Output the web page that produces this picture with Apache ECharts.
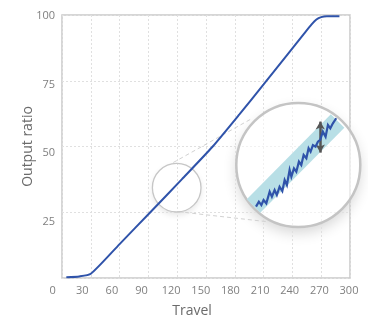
<!DOCTYPE html>
<html>
<head>
<meta charset="utf-8">
<script src="https://cdn.jsdelivr.net/npm/echarts@6/dist/echarts.min.js"></script>
<style>
html,body{margin:0;padding:0;background:#fff;}
#chart{width:368px;height:333px;}
</style>
</head>
<body>
<div id="chart"></div>
<script>
// Main curve: Travel vs Output ratio
const travel = [4.5, 18, 30, 60, 92, 125, 157, 185, 210, 235, 252, 260, 265, 270, 276, 289];
const outputRatio = [0.3, 0.6, 1.6, 12.9, 25, 37.6, 50, 62.3, 73.6, 85, 92.8, 96.4, 98.3, 99.2, 99.5, 99.5];

// Tick labels
const xTicks = [0, 30, 60, 90, 120, 150, 180, 210, 240, 270, 300];
const yTicks = [25, 50, 75, 100];

// Magnified inset (0..100 local units inside the lens)
const bandX = [13.9, 81.7];
const bandY = [16.9, 85.5];
const noiseX = [15.9, 18.2, 20.2, 22.0, 24.2, 26.9, 28.7, 30.9, 32.7, 34.9, 37.1, 39.0, 40.8, 43.0, 44.4, 46.5, 48.4, 50.5, 52.4, 54.3, 56.5, 58.3, 59.9, 61.8, 63.9, 65.8, 67.7, 69.8, 72.0, 73.9, 75.8, 77.9, 80.6];
const noiseY = [16.4, 20.4, 17.7, 21.8, 19.1, 28.5, 24.4, 29.8, 25.8, 32.5, 29.0, 37.9, 33.9, 46.0, 40.6, 47.3, 44.6, 52.7, 50.0, 58.1, 55.4, 63.5, 60.7, 66.1, 64.8, 68.8, 70.2, 76.9, 72.8, 82.3, 79.6, 83.6, 87.7];
const arrowX = 67.7;
const arrowY = [85, 60];

const FONT = '"Open Sans", "DejaVu Sans", sans-serif';
const chart = echarts.init(document.getElementById('chart'), null, {renderer: 'canvas'});

const mainData = travel.map((t, i) => [t, outputRatio[i]]);
const bandData = bandX.map((x, i) => [x, bandY[i]]);
const noiseData = noiseX.map((x, i) => [x, noiseY[i]]);

const lens = {cx: 298.3, cy: 165, r: 62};
const spot = {cx: 176.7, cy: 187.7, r: 24.3};

chart.setOption({
  animation: false,
  backgroundColor: '#fff',
  textStyle: {fontFamily: FONT},
  grid: [
    {left: 62, right: 18, top: 15, bottom: 55, show: true, borderColor: '#c9c9c9', borderWidth: 1.5, backgroundColor: 'transparent'},
    {left: 52.6, right: 19, top: 15.7, bottom: 47.5},
    {left: 55, right: 19, top: 15.7, bottom: 42},
    {left: lens.cx - lens.r, top: lens.cy - lens.r, width: lens.r * 2, height: lens.r * 2}
  ],
  xAxis: [
    {gridIndex: 0, type: 'value', min: 0, max: 300, interval: 30,
      axisLine: {show: false}, axisTick: {show: false}, axisLabel: {show: false},
      splitLine: {show: true, lineStyle: {color: '#e0e0e0', width: 1, type: [2, 2]}}},
    {gridIndex: 1, type: 'value', min: 0, max: 300, interval: 30,
      axisLine: {show: false}, axisTick: {show: false}, splitLine: {show: false},
      axisLabel: {show: true, margin: 0, color: '#7f7f7f', fontSize: 11, fontFamily: FONT,
        customValues: xTicks}},
    {gridIndex: 2, type: 'value', min: 0, max: 300, show: false},
    {gridIndex: 3, type: 'value', min: 0, max: 100, show: false}
  ],
  yAxis: [
    {gridIndex: 0, type: 'value', min: 0, max: 100, interval: 25,
      axisLine: {show: false}, axisTick: {show: false}, axisLabel: {show: false},
      splitLine: {show: true, lineStyle: {color: '#e0e0e0', width: 1, type: [2, 2]}}},
    {gridIndex: 1, type: 'value', min: 0, max: 100, show: false},
    {gridIndex: 2, type: 'value', min: 0, max: 100, interval: 25,
      axisLine: {show: false}, axisTick: {show: false}, splitLine: {show: false},
      axisLabel: {show: true, margin: 0, color: '#7f7f7f', fontSize: 11, fontFamily: FONT,
        customValues: yTicks}},
    {gridIndex: 3, type: 'value', min: 0, max: 100, show: false}
  ],
  graphic: [
    {type: 'circle', z: -10, shape: {cx: lens.cx, cy: lens.cy, r: lens.r},
      style: {fill: '#fff', shadowBlur: 14, shadowOffsetY: 6, shadowColor: 'rgba(0,0,0,0.16)'}},
    {type: 'circle', z: -10, shape: {cx: spot.cx, cy: spot.cy, r: spot.r},
      style: {fill: '#fff', shadowBlur: 6, shadowOffsetY: 3, shadowColor: 'rgba(0,0,0,0.10)'}},
    {type: 'line', z: 1, shape: {x1: 173.3, y1: 162.5, x2: 252.3, y2: 118.3},
      style: {stroke: '#d2d2d2', lineWidth: 1, lineDash: [4, 3]}},
    {type: 'line', z: 1, shape: {x1: 178.3, y1: 211.7, x2: 267.3, y2: 221.7},
      style: {stroke: '#d2d2d2', lineWidth: 1, lineDash: [4, 3]}},
    {type: 'circle', z: 1, shape: {cx: lens.cx, cy: lens.cy, r: lens.r},
      style: {fill: 'rgba(255,255,255,0.55)', stroke: '#c4c4c4', lineWidth: 2.5}},
    {type: 'circle', z: 1, shape: {cx: spot.cx, cy: spot.cy, r: spot.r},
      style: {fill: 'none', stroke: '#c6c6c6', lineWidth: 1.3}},
    {type: 'text', z: 5, x: 192, y: 311,
      style: {text: 'Travel', font: '14px ' + FONT, fill: '#6b6b6b', textAlign: 'center', textVerticalAlign: 'middle'}},
    {type: 'text', z: 5, x: 28, y: 146.5, rotation: Math.PI / 2,
      style: {text: 'Output ratio', font: '14px ' + FONT, fill: '#6b6b6b', textAlign: 'center', textVerticalAlign: 'middle'}}
  ],
  series: [
    {type: 'line', xAxisIndex: 0, yAxisIndex: 0, data: mainData, showSymbol: false, smooth: 0.2,
      lineStyle: {color: '#2f53aa', width: 2}, z: 3, silent: true},
    {type: 'line', xAxisIndex: 3, yAxisIndex: 3, data: bandData, showSymbol: false,
      lineStyle: {color: '#b8dfe6', width: 19, cap: 'butt'}, z: 4, silent: true},
    {type: 'line', xAxisIndex: 3, yAxisIndex: 3, data: noiseData, showSymbol: false,
      lineStyle: {color: '#2f53aa', width: 2.2, join: 'miter'}, z: 5, silent: true,
      markLine: {silent: true, symbol: ['arrow', 'arrow'], symbolSize: [7, 8], precision: 2,
        label: {show: false},
        lineStyle: {color: '#555', width: 2.5, type: 'solid'},
        data: [[{coord: [arrowX, arrowY[0]]}, {coord: [arrowX, arrowY[1]]}]]}}
  ]
});
</script>
</body>
</html>
